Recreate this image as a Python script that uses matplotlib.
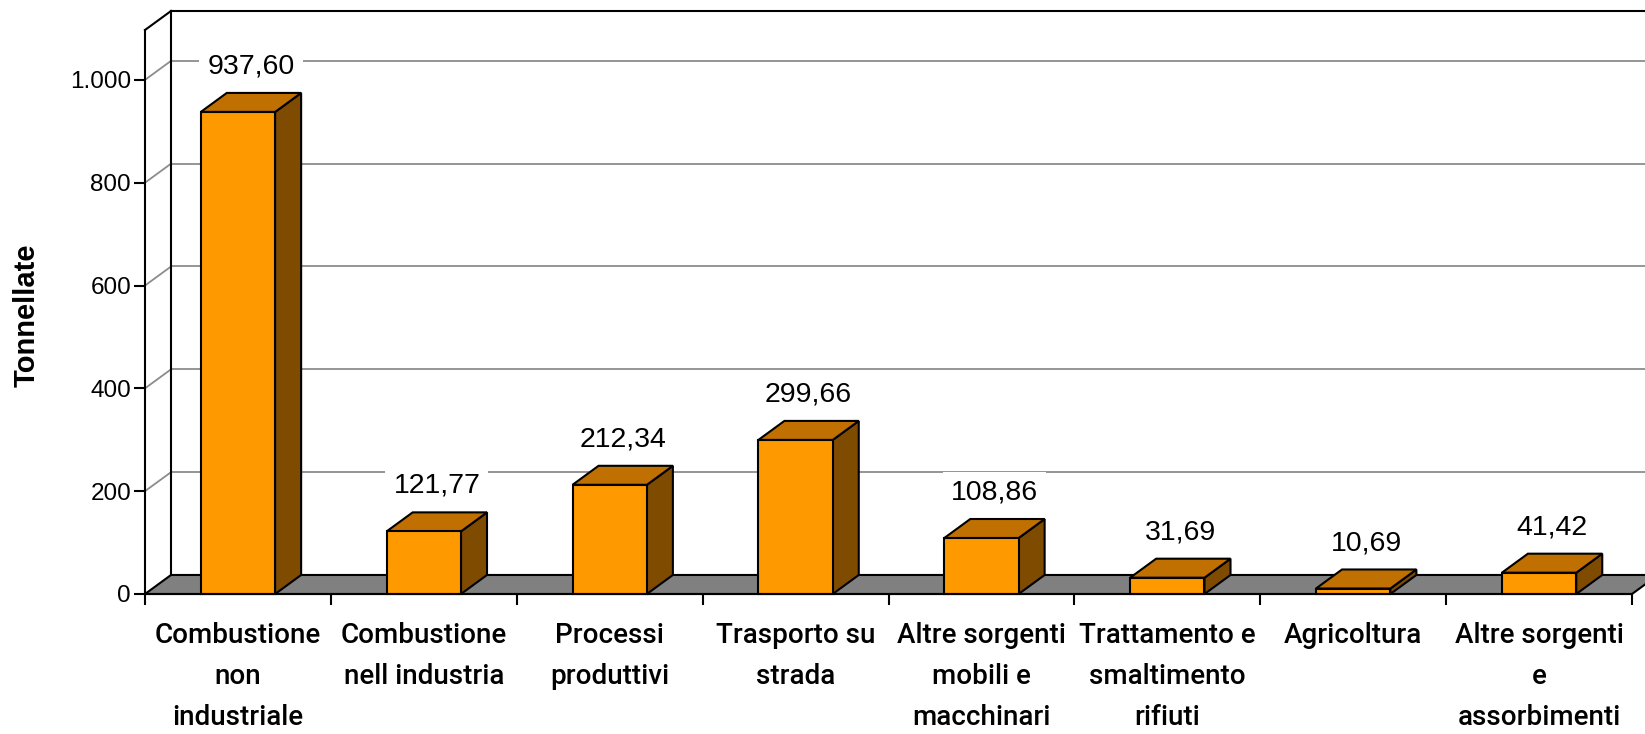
import numpy as np
import matplotlib.pyplot as plt
from matplotlib.patches import Polygon
from matplotlib.ticker import FuncFormatter

plt.rcParams['font.family'] = ['Liberation Sans', 'DejaVu Sans']

# --- dati ---
categorie = [
    'Combustione\nnon\nindustriale',
    'Combustione\nnell industria',
    'Processi\nproduttivi',
    'Trasporto su\nstrada',
    'Altre sorgenti\nmobili e\nmacchinari',
    'Trattamento e\nsmaltimento\nrifiuti',
    'Agricoltura',
    'Altre sorgenti\ne\nassorbimenti',
]
valori = [937.60, 121.77, 212.34, 299.66, 108.86, 31.69, 10.69, 41.42]
yticks = [0, 200, 400, 600, 800, 1000]

# --- stile pseudo-3D (Excel) ---
YMAX = 1097
DX = 0.14      # profondità in unità categoria
DY = 37        # profondità in unità valore
HALF_W = 0.2
C_FRONT = '#FF9900'
C_TOP = '#C07000'
C_SIDE = '#7F4B00'
C_FLOOR = '#808080'
C_GRID = '#8C8C8C'
LW = 1.5

W, H = 1645, 734
fig = plt.figure(figsize=(W / 100, H / 100), dpi=100)
ax = fig.add_axes([145 / W, (H - 594) / H, 1487 / W, 564 / H])
n = len(valori)
x0, x1 = -0.5, n - 0.5
ax.set_xlim(x0, x1)
ax.set_ylim(0, YMAX)

for s in ['top', 'right', 'bottom']:
    ax.spines[s].set_visible(False)
ax.spines['left'].set_linewidth(LW)

# parete sinistra e parete di fondo
ax.plot([x0 + DX, x0 + DX], [DY, YMAX + DY], color='black', lw=LW, clip_on=False, zorder=2)
ax.plot([x0, x0 + DX], [YMAX, YMAX + DY], color='black', lw=LW, clip_on=False, zorder=2)
ax.plot([x0 + DX, x1 + DX + 1], [YMAX + DY, YMAX + DY], color='black', lw=LW, clip_on=False, zorder=2)

# griglia sulla parete
for t in yticks[1:]:
    ax.plot([x0, x0 + DX], [t, t + DY], color=C_GRID, lw=1.3, clip_on=False, zorder=1)
    ax.plot([x0 + DX, x1 + DX + 1], [t + DY, t + DY], color=C_GRID, lw=1.3, clip_on=False, zorder=1)

# pavimento
floor = Polygon([(x0, 0), (x1, 0), (x1 + DX, DY), (x0 + DX, DY)], closed=True,
                facecolor=C_FLOOR, edgecolor='black', lw=LW, clip_on=False, zorder=3)
ax.add_patch(floor)

# barre
for i, v in enumerate(valori):
    l, r = i - HALF_W, i + HALF_W
    side = Polygon([(r, 0), (r + DX, DY), (r + DX, v + DY), (r, v)], closed=True,
                   facecolor=C_SIDE, edgecolor='black', lw=LW, zorder=4, clip_on=False)
    top = Polygon([(l, v), (r, v), (r + DX, v + DY), (l + DX, v + DY)], closed=True,
                  facecolor=C_TOP, edgecolor='black', lw=LW, zorder=4, clip_on=False)
    front = Polygon([(l, 0), (r, 0), (r, v), (l, v)], closed=True,
                    facecolor=C_FRONT, edgecolor='black', lw=LW, zorder=5, clip_on=False)
    ax.add_patch(side)
    ax.add_patch(top)
    ax.add_patch(front)
    ax.annotate(f'{v:.2f}'.replace('.', ','), xy=(i + DX / 2, v + DY), xytext=(0, 14),
                textcoords='offset points', ha='center', va='baseline', fontsize=20.5,
                bbox=dict(boxstyle='square,pad=0.28', facecolor='white', edgecolor='none'),
                zorder=6, annotation_clip=False)

# linea frontale del pavimento
ax.plot([x0, x1], [0, 0], color='black', lw=LW, clip_on=False, zorder=6)

# assi
ax.set_yticks(yticks)
ax.yaxis.set_major_formatter(FuncFormatter(lambda v, p: f'{int(v):,}'.replace(',', '.')))
ax.tick_params(axis='y', direction='out', length=8, width=LW, labelsize=17.5, pad=2)

ax.set_xticks(np.arange(n + 1) - 0.5)
ax.set_xticklabels([])
ax.set_xticks(np.arange(n), minor=True)
ax.set_xticklabels(categorie, minor=True, fontsize=20, fontweight='medium',
                   family=['Roboto', 'Liberation Sans'], linespacing=1.67)
ax.tick_params(axis='x', which='major', direction='out', length=8, width=LW)
ax.tick_params(axis='x', which='minor', length=0, pad=20)

fig.text(27 / W, 1 - 315 / H, 'Tonnellate', rotation=90, ha='center', va='center',
         fontsize=21, fontweight='bold')

fig.savefig('out.png', dpi=100)
